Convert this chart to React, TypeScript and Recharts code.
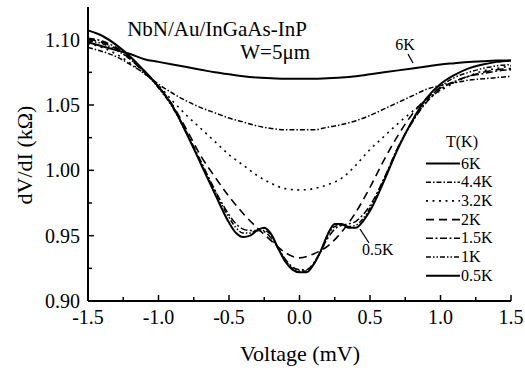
import { LineChart, Line, XAxis, YAxis } from "recharts";

const FONT = '"Liberation Serif", "Times New Roman", serif';

// voltage grids (mV)
const vCoarse = [
  -1.5, -1.4, -1.3, -1.2, -1.1, -1.0, -0.9, -0.8, -0.7, -0.6, -0.5, -0.4, -0.3, -0.2, -0.1, 0,
  0.1, 0.2, 0.3, 0.4, 0.5, 0.6, 0.7, 0.8, 0.9, 1.0, 1.1, 1.2, 1.3, 1.4, 1.5,
];
const vFine = [
  -1.5, -1.4, -1.3, -1.2, -1.1, -1.0, -0.9, -0.8, -0.7, -0.6, -0.5, -0.45, -0.4, -0.35, -0.3,
  -0.25, -0.2, -0.15, -0.1, -0.05, 0, 0.05, 0.1, 0.15, 0.2, 0.25, 0.3, 0.35, 0.4, 0.45, 0.5,
  0.6, 0.7, 0.8, 0.9, 1.0, 1.1, 1.2, 1.3, 1.4, 1.5,
];

// dV/dI (kOhm) on vCoarse
const r6K = [
  1.098, 1.095, 1.092, 1.089, 1.085, 1.083, 1.081, 1.079, 1.077, 1.075, 1.0735, 1.072, 1.071,
  1.0705, 1.070, 1.070, 1.070, 1.0705, 1.071, 1.072, 1.0735, 1.075, 1.0765, 1.078, 1.0795,
  1.081, 1.082, 1.083, 1.0835, 1.084, 1.084,
];
const r44K = [
  1.094, 1.091, 1.087, 1.081, 1.074, 1.066, 1.059, 1.053, 1.048, 1.044, 1.04, 1.037, 1.034,
  1.032, 1.031, 1.031, 1.031, 1.033, 1.035, 1.038, 1.042, 1.047, 1.052, 1.057, 1.062, 1.065,
  1.067, 1.069, 1.07, 1.071, 1.072,
];
const r32K = [
  1.097, 1.094, 1.089, 1.082, 1.074, 1.065, 1.053, 1.042, 1.032, 1.022, 1.012, 1.004, 0.996,
  0.99, 0.986, 0.985, 0.986, 0.989, 0.994, 1.004, 1.016, 1.026, 1.036, 1.045, 1.054, 1.061,
  1.067, 1.072, 1.076, 1.078, 1.08,
];
const r2K = [
  1.1, 1.098, 1.093, 1.085, 1.075, 1.064, 1.05, 1.031, 1.011, 0.995, 0.98, 0.967, 0.956, 0.946,
  0.937, 0.933, 0.936, 0.942, 0.953, 0.968, 0.987, 1.008, 1.027, 1.043, 1.055, 1.063, 1.068,
  1.072, 1.075, 1.077, 1.078,
];

// dV/dI (kOhm) on vFine
const r15K = [
  1.101, 1.099, 1.094, 1.086, 1.076, 1.064, 1.049, 1.029, 1.007, 0.985, 0.966, 0.959, 0.955,
  0.954, 0.954, 0.953, 0.948, 0.94, 0.932, 0.926, 0.924, 0.924, 0.929, 0.938, 0.948, 0.955,
  0.958, 0.959, 0.961, 0.966, 0.973, 0.994, 1.018, 1.037, 1.052, 1.062, 1.068, 1.072, 1.074,
  1.076, 1.077,
];
const r1K = [
  1.099, 1.097, 1.092, 1.085, 1.075, 1.063, 1.048, 1.028, 1.006, 0.984, 0.964, 0.956, 0.952,
  0.952, 0.954, 0.954, 0.95, 0.94, 0.931, 0.925, 0.923, 0.923, 0.928, 0.938, 0.95, 0.957,
  0.958, 0.957, 0.958, 0.963, 0.971, 0.993, 1.018, 1.037, 1.053, 1.064, 1.071, 1.075, 1.078,
  1.08, 1.081,
];
const r05K = [
  1.107, 1.103, 1.096, 1.087, 1.076, 1.064, 1.049, 1.028, 1.005, 0.982, 0.96, 0.952, 0.949,
  0.95, 0.954, 0.956, 0.951, 0.94, 0.93, 0.924, 0.922, 0.922, 0.928, 0.938, 0.951, 0.959,
  0.959, 0.956, 0.956, 0.961, 0.969, 0.992, 1.017, 1.038, 1.055, 1.066, 1.073, 1.078, 1.081,
  1.083, 1.084,
];

const xTicks = [-1.5, -1.25, -1.0, -0.75, -0.5, -0.25, 0, 0.25, 0.5, 0.75, 1.0, 1.25, 1.5];
const yTicks = [0.9, 0.925, 0.95, 0.975, 1.0, 1.025, 1.05, 1.075, 1.1];

const coarseData = vCoarse.map((v, i) => ({ v, t6: r6K[i], t44: r44K[i], t32: r32K[i], t2: r2K[i] }));
const fineData = vFine.map((v, i) => ({ v, t15: r15K[i], t1: r1K[i], t05: r05K[i] }));

const series = [
  { key: "t6", label: "6K", data: coarseData, dash: undefined, width: 2 },
  { key: "t44", label: "4.4K", data: coarseData, dash: "5 2 1.5 2", width: 1.5 },
  { key: "t32", label: "3.2K", data: coarseData, dash: "2 4.5", width: 1.6 },
  { key: "t2", label: "2K", data: coarseData, dash: "8 5", width: 1.6 },
  { key: "t15", label: "1.5K", data: fineData, dash: "7 2.5 2 2.5", width: 1.5 },
  { key: "t1", label: "1K", data: fineData, dash: "5 2 1.5 2 1.5 2", width: 1.5 },
  { key: "t05", label: "0.5K", data: fineData, dash: undefined, width: 2 },
];

const isMajor = (v: number, step: number) => Math.abs(v / step - Math.round(v / step)) < 1e-6;

const BottomTick = ({ x, y, payload }: any) => {
  const major = isMajor(payload.value, 0.5);
  return (
    <g>
      <line x1={x} x2={x} y1={y} y2={y - (major ? 6 : 4)} stroke="#000" strokeWidth={1.5} />
      {major && (
        <text x={x} y={y + 23} textAnchor="middle" fontSize={20} fontFamily={FONT} fill="#000">
          {payload.value.toFixed(1)}
        </text>
      )}
    </g>
  );
};

const TopTick = ({ x, y, payload }: any) => {
  const major = isMajor(payload.value, 0.5);
  return <line x1={x} x2={x} y1={y} y2={y + (major ? 6 : 4)} stroke="#000" strokeWidth={1.5} />;
};

const LeftTick = ({ x, y, payload }: any) => {
  const major = isMajor(payload.value - 0.9, 0.05);
  return (
    <g>
      <line x1={x} x2={x + (major ? 6 : 4)} y1={y} y2={y} stroke="#000" strokeWidth={1.5} />
      {major && (
        <text x={x - 8} y={y + 7} textAnchor="end" fontSize={20} fontFamily={FONT} fill="#000">
          {payload.value.toFixed(2)}
        </text>
      )}
    </g>
  );
};

const RightTick = ({ x, y, payload }: any) => {
  const major = isMajor(payload.value - 0.9, 0.05);
  return <line x1={x} x2={x - (major ? 6 : 4)} y1={y} y2={y} stroke="#000" strokeWidth={1.5} />;
};

export default function App() {
  return (
    <div style={{ position: "absolute", left: 0, top: 0, width: 525, height: 370, background: "#fff" }}>
      <LineChart width={525} height={370} margin={{ top: 7, right: 14, bottom: 0, left: 0 }}>
        <XAxis
          xAxisId="b"
          dataKey="v"
          type="number"
          domain={[-1.5, 1.5]}
          ticks={xTicks}
          interval={0}
          height={69}
          tickSize={0}
          tickMargin={0}
          tickLine={false}
          tick={<BottomTick />}
          axisLine={{ stroke: "#000", strokeWidth: 2 }}
          allowDataOverflow
        />
        <XAxis
          xAxisId="top"
          orientation="top"
          type="number"
          domain={[-1.5, 1.5]}
          ticks={xTicks}
          interval={0}
          height={0}
          tickSize={0}
          tickMargin={0}
          tickLine={false}
          tick={<TopTick />}
          axisLine={{ stroke: "#000", strokeWidth: 2 }}
          allowDataOverflow
        />
        <YAxis
          yAxisId="l"
          type="number"
          domain={[0.9, 1.125]}
          ticks={yTicks}
          interval={0}
          width={88}
          tickSize={0}
          tickMargin={0}
          tickLine={false}
          tick={<LeftTick />}
          axisLine={{ stroke: "#000", strokeWidth: 2 }}
          allowDataOverflow
        />
        <YAxis
          yAxisId="r"
          orientation="right"
          type="number"
          domain={[0.9, 1.125]}
          ticks={yTicks}
          interval={0}
          width={0}
          tickSize={0}
          tickMargin={0}
          tickLine={false}
          tick={<RightTick />}
          axisLine={{ stroke: "#000", strokeWidth: 2 }}
          allowDataOverflow
        />
        {series.map((s) => (
          <Line
            key={s.key}
            xAxisId="b"
            yAxisId="l"
            data={s.data}
            dataKey={s.key}
            type="monotone"
            stroke="#000"
            strokeWidth={s.width}
            strokeDasharray={s.dash}
            dot={false}
            isAnimationActive={false}
          />
        ))}
      </LineChart>
      <svg
        width={525}
        height={370}
        style={{ position: "absolute", left: 0, top: 0, pointerEvents: "none" }}
        fontFamily={FONT}
      >
        <text x={217} y={36} textAnchor="middle" fontSize={21}>NbN/Au/InGaAs-InP</text>
        <text x={310} y={59} textAnchor="end" fontSize={21}>W=5μm</text>
        <text x={300} y={361} textAnchor="middle" fontSize={22}>Voltage (mV)</text>
        <text x={24} y={155} textAnchor="middle" fontSize={22} dy="0.35em" transform="rotate(-90 24 155)">
          dV/dI (kΩ)
        </text>
        <text x={405} y={50} textAnchor="middle" fontSize={16}>6K</text>
        <line x1={408} y1={54} x2={413} y2={63} stroke="#000" strokeWidth={1.3} />
        <text x={362} y={255} fontSize={16}>0.5K</text>
        <line x1={360} y1={229} x2={369} y2={243} stroke="#000" strokeWidth={1.3} />
        <text x={462} y={147} textAnchor="middle" fontSize={16}>T(K)</text>
        {series.map((s, i) => {
          const yy = 168.5 + i * 18.7;
          return (
            <g key={s.key}>
              <line
                x1={426}
                x2={460}
                y1={yy - 5}
                y2={yy - 5}
                stroke="#000"
                strokeWidth={s.width}
                strokeDasharray={s.dash}
              />
              <text x={461} y={yy} fontSize={16}>{s.label}</text>
            </g>
          );
        })}
      </svg>
    </div>
  );
}
